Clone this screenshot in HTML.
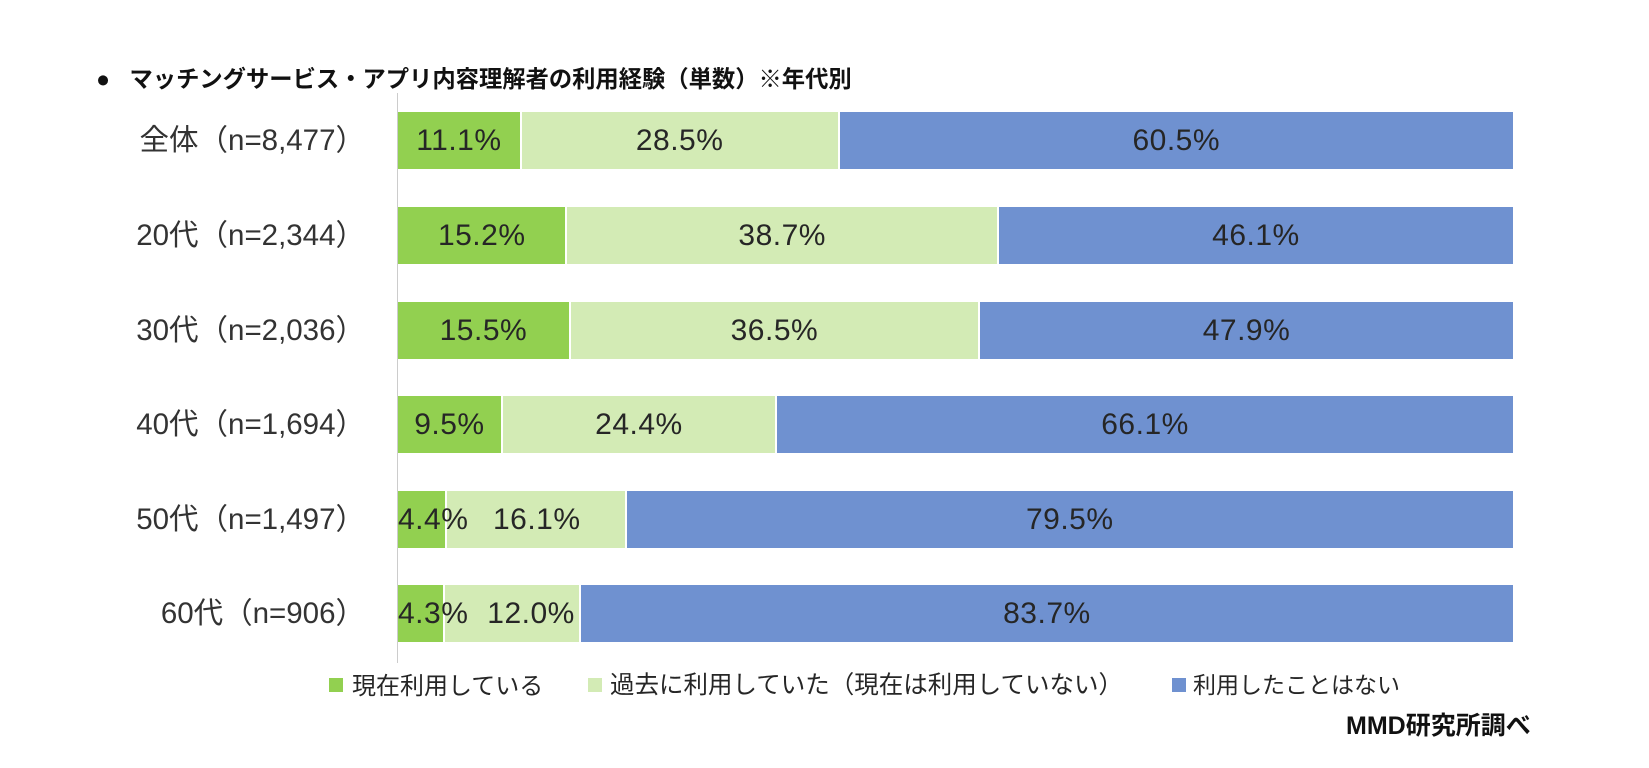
<!DOCTYPE html>
<html><head><meta charset="utf-8"><style>
body{margin:0;width:1649px;height:768px;background:#fff;position:relative;overflow:hidden;font-family:"Liberation Sans","Noto Sans CJK JP",sans-serif;color:#262626}
.t{position:absolute;white-space:nowrap}
.bar{position:absolute;left:398px;width:1115px;height:57px;display:flex}
.s{height:100%;display:flex;align-items:center;justify-content:center;font-size:30px;letter-spacing:0.5px;box-sizing:border-box;border-right:2px solid #fff;white-space:nowrap;overflow:visible}
.s span{position:relative;z-index:2}
.g{background:#92d050}.l{background:#d3ebb5}.b{background:#6f91d0;border-right:none}
.lab{position:absolute;right:1284px;font-size:29.5px;height:57px;line-height:57px;white-space:nowrap;color:#333}
.sq{position:absolute;width:14px;height:14px}
</style></head><body>
<div class="t" style="left:96px;top:60px;font-size:23.3px;font-weight:bold;color:#111">●&nbsp;&nbsp;&nbsp;マッチングサービス・アプリ内容理解者の利用経験（単数）※年代別</div>
<div style="position:absolute;left:397px;top:93px;width:1px;height:570px;background:#ccc"></div>

<div class="lab" style="top:112px">全体（n=8,477）</div>
<div class="bar" style="top:112px"><div class="s g" style="width:11.1%"><span>11.1%</span></div><div class="s l" style="width:28.5%"><span>28.5%</span></div><div class="s b" style="width:60.4%"><span>60.5%</span></div></div>

<div class="lab" style="top:207px">20代（n=2,344）</div>
<div class="bar" style="top:207px"><div class="s g" style="width:15.2%"><span>15.2%</span></div><div class="s l" style="width:38.7%"><span>38.7%</span></div><div class="s b" style="width:46.1%"><span>46.1%</span></div></div>

<div class="lab" style="top:302px">30代（n=2,036）</div>
<div class="bar" style="top:302px"><div class="s g" style="width:15.5%"><span>15.5%</span></div><div class="s l" style="width:36.7%"><span>36.5%</span></div><div class="s b" style="width:47.8%"><span>47.9%</span></div></div>

<div class="lab" style="top:396px">40代（n=1,694）</div>
<div class="bar" style="top:396px"><div class="s g" style="width:9.4%"><span>9.5%</span></div><div class="s l" style="width:24.6%"><span>24.4%</span></div><div class="s b" style="width:66%"><span>66.1%</span></div></div>

<div class="lab" style="top:491px">50代（n=1,497）</div>
<div class="bar" style="top:491px"><div class="s g" style="width:4.4%;justify-content:flex-start"><span>4.4%</span></div><div class="s l" style="width:16.1%;justify-content:flex-end;padding-right:44px"><span>16.1%</span></div><div class="s b" style="width:79.5%"><span>79.5%</span></div></div>

<div class="lab" style="top:585px">60代（n=906）</div>
<div class="bar" style="top:585px"><div class="s g" style="width:4.2%;justify-content:flex-start"><span>4.3%</span></div><div class="s l" style="width:12.2%;justify-content:flex-end;padding-right:4px"><span>12.0%</span></div><div class="s b" style="width:83.6%"><span>83.7%</span></div></div>

<div class="sq" style="left:329px;top:678px;background:#92d050"></div>
<div class="t" style="left:352px;top:666px;font-size:24px">現在利用している</div>
<div class="sq" style="left:588px;top:678px;background:#d3ebb5"></div>
<div class="t" style="left:610px;top:666px;font-size:24.5px">過去に利用していた（現在は利用していない）</div>
<div class="sq" style="left:1172px;top:678px;background:#6f91d0"></div>
<div class="t" style="left:1193px;top:666px;font-size:23px">利用したことはない</div>
<div class="t" style="left:1346px;top:706px;font-size:25px;font-weight:bold;color:#111">MMD研究所調べ</div>
</body></html>
